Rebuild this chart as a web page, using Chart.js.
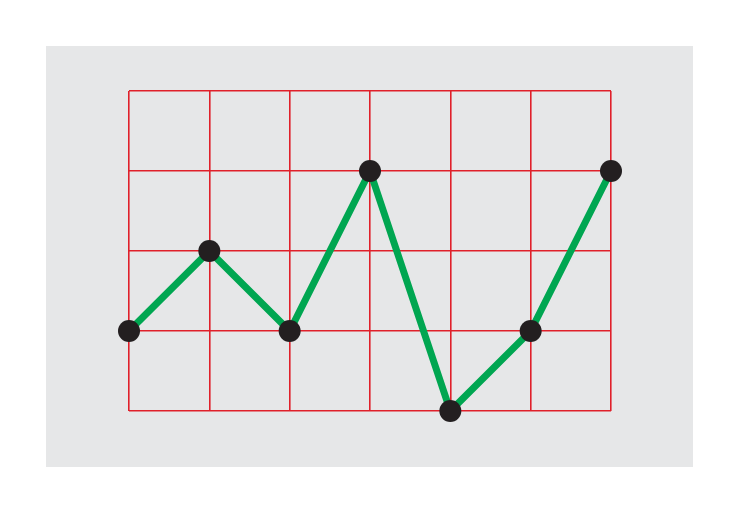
<!DOCTYPE html>
<html>
<head>
<meta charset="utf-8">
<script src="https://cdn.jsdelivr.net/npm/chart.js@4.4.0/dist/chart.umd.min.js"></script>
<style>
html,body{margin:0;padding:0;background:#ffffff;}
#wrap{position:absolute;left:46px;top:46px;width:647px;height:421px;background:#e6e7e8;}
canvas{display:block;}
</style>
</head>
<body>
<div id="wrap"><canvas id="c" width="647" height="421"></canvas></div>
<script>
const categories = ['1','2','3','4','5','6','7'];
const values = [1, 2, 1, 3, 0, 1, 3];
const yMin = 0, yMax = 4;

new Chart(document.getElementById('c'), {
  type: 'line',
  data: {
    labels: categories,
    datasets: [{
      data: values,
      borderColor: '#00a651',
      borderWidth: 7,
      pointBackgroundColor: '#231f20',
      pointBorderColor: '#231f20',
      pointRadius: 11,
      pointBorderWidth: 0,
      tension: 0,
      clip: false
    }]
  },
  options: {
    responsive: false,
    animation: false,
    devicePixelRatio: 1,
    layout: { padding: { left: 83, right: 82, top: 45, bottom: 56 } },
    plugins: { legend: { display: false }, tooltip: { enabled: false } },
    scales: {
      x: {
        offset: false,
        ticks: { display: false },
        grid: { color: '#e0202a', lineWidth: 1.6, drawTicks: false },
        border: { display: false }
      },
      y: {
        min: yMin, max: yMax,
        ticks: { display: false, stepSize: 1 },
        grid: { color: '#e0202a', lineWidth: 1.6, drawTicks: false },
        border: { display: false }
      }
    }
  }
});
</script>
</body>
</html>
